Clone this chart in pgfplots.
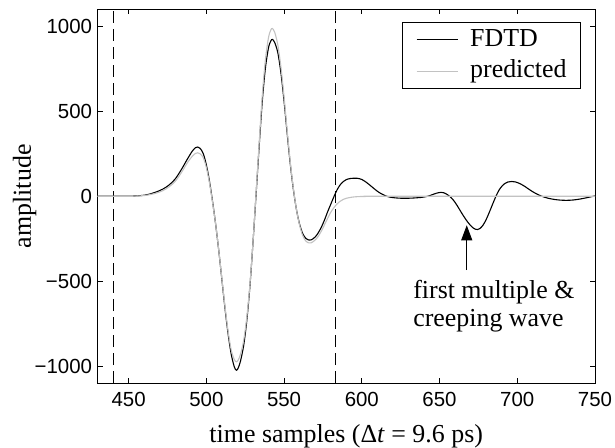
\documentclass[border=0pt]{standalone}
\usepackage{pgfplots}
\pgfplotsset{compat=1.18}
\usepackage{fontspec}
\setmainfont{Liberation Serif}
\newfontfamily\sansf{Liberation Sans}
\usetikzlibrary{arrows.meta}
\definecolor{predgray}{rgb}{0.76,0.76,0.76}
\newcommand\lblfont{\fontsize{26}{30}\selectfont}
\newcommand\tickfont{\sansf\fontsize{20.5}{24}\selectfont}

\begin{document}
\begin{tikzpicture}
\begin{axis}[
  scale only axis, width=497.5bp, height=373.5bp,
  xmin=430, xmax=750, ymin=-1100, ymax=1100,
  xtick={450,500,...,750}, xticklabels={450,500,550,600,650,700,750},
  ytick={-1000,-500,0,500,1000}, yticklabels={−1000,−500,0,500,1000},
  tick label style={font=\tickfont},
  major tick length=5bp,
  every tick/.style={black, line width=0.8bp},
  axis line style={line width=0.9bp},
  xticklabel style={yshift=-6bp},
  yticklabel style={xshift=-2bp},
  xlabel={time samples (Δ\textit{t} = 9.6 ps)},
  ylabel={amplitude},
  label style={font=\lblfont},
  xlabel style={at={(axis description cs:0.5,-0.1606)}, anchor=base},
  ylabel style={at={(axis description cs:-0.1337,0.5)}, anchor=base},
  legend style={at={(axis description cs:0.9719,0.9657)}, anchor=north east,
    draw=black, line width=0.9bp, font=\lblfont,
    inner xsep=14bp, inner ysep=5.5bp, row sep=8.5bp, column sep=12bp,
    nodes={inner sep=0bp, text height=18bp, text depth=5bp}},
  legend cell align=left,
  legend image code/.code={\draw[#1] (0bp,0bp) -- (41bp,0bp);},
]
\addplot[black, line width=0.9bp, dash pattern=on 12bp off 6bp, forget plot] coordinates {(440,-1100) (440,1100)};
\addplot[black, line width=0.9bp, dash pattern=on 12bp off 6bp, forget plot] coordinates {(583,-1100) (583,1100)};

\addplot[black, line width=1.1bp, smooth] coordinates {
(430,0) (440,0) (450,0.5) (455,2) (460,6) (464,14) (468,26) (472,42) (476,66) (480,102) (484,158) (488,222) (491,266) (493,286) (494.5,290) (496,282) (498,252) (500,185) (502,90) (504,-30) (506,-165) (508,-320) (510,-490) (512,-660) (514,-810) (516,-930) (518,-1005) (519.3,-1025) (520.5,-1012) (522,-970) (524,-880) (526,-735) (528,-535) (530,-275) (532,10) (534,295) (536,560) (538,755) (540,875) (541.5,915) (542.5,924) (544,905) (546,845) (548,725) (550,560) (552,370) (554,190) (556,40) (558,-80) (560,-165) (562,-220) (564,-248) (566,-258) (567.5,-257) (570,-240) (572,-215) (574,-182) (576,-140) (578,-92) (580,-48) (582,-4) (584,36) (586,66) (588,86) (590,98) (593,105) (597,106) (600,99) (602,88) (605,67) (608,44) (611,23) (614,8) (617,-3) (621,-9) (626,-12) (632,-11) (638,-7) (642,-1) (645,8) (648,18) (651,23) (653,20) (655,10) (657,-4) (659,-24) (661,-50) (663,-80) (665,-110) (667,-138) (669,-162) (671,-182) (673,-194) (674.5,-196) (676,-190) (678,-170) (680,-137) (682,-95) (684,-50) (686,-6) (688,32) (690,58) (692,75) (694,84) (696.5,87) (699,84) (702,73) (705,57) (708,38) (711,21) (714,7) (717,-4) (720,-12) (724,-19) (728,-23) (732,-24) (736,-22) (740,-17) (744,-10) (747,-4) (750,2)
};
\addlegendentry{FDTD}
\addplot[predgray, line width=1.1bp, smooth] coordinates {
(430,0) (450,0) (455,1) (460,4) (464,10) (468,19) (472,33) (476,55) (480,88) (484,140) (488,200) (491,236) (493,252) (494.5,256) (496,250) (498,228) (500,170) (502,80) (504,-35) (506,-165) (508,-318) (510,-485) (512,-650) (514,-795) (516,-905) (518,-962) (519.3,-975) (520.5,-965) (522,-930) (524,-850) (526,-715) (528,-525) (530,-275) (532,20) (534,315) (536,595) (538,805) (540,935) (541.5,980) (542.5,988) (544,965) (546,890) (548,760) (550,585) (552,385) (554,200) (556,45) (558,-80) (560,-170) (562,-232) (564,-264) (566,-275) (567.5,-274) (570,-258) (572,-236) (574,-205) (576,-168) (578,-130) (580,-95) (582,-68) (584,-46) (586,-30) (588,-19) (590,-12) (594,-5) (598,-2) (604,-1) (612,0) (750,0)
};
\addlegendentry{predicted}

\draw[line width=0.9bp, -{Triangle[width=11bp,length=15bp]}] (axis cs:667.5,-435) -- (axis cs:667.5,-171);
\node[anchor=base west, font=\lblfont, inner sep=0pt] at (axis cs:633,-600) {first multiple \&};
\node[anchor=base west, font=\lblfont, inner sep=0pt] at (axis cs:633,-767) {creeping wave};
\end{axis}
\pgfresetboundingbox
\useasboundingbox ([xshift=-97.5bp,yshift=-65bp]current axis.south west) rectangle ([xshift=20bp,yshift=9.5bp]current axis.north east);
\end{tikzpicture}
\end{document}
